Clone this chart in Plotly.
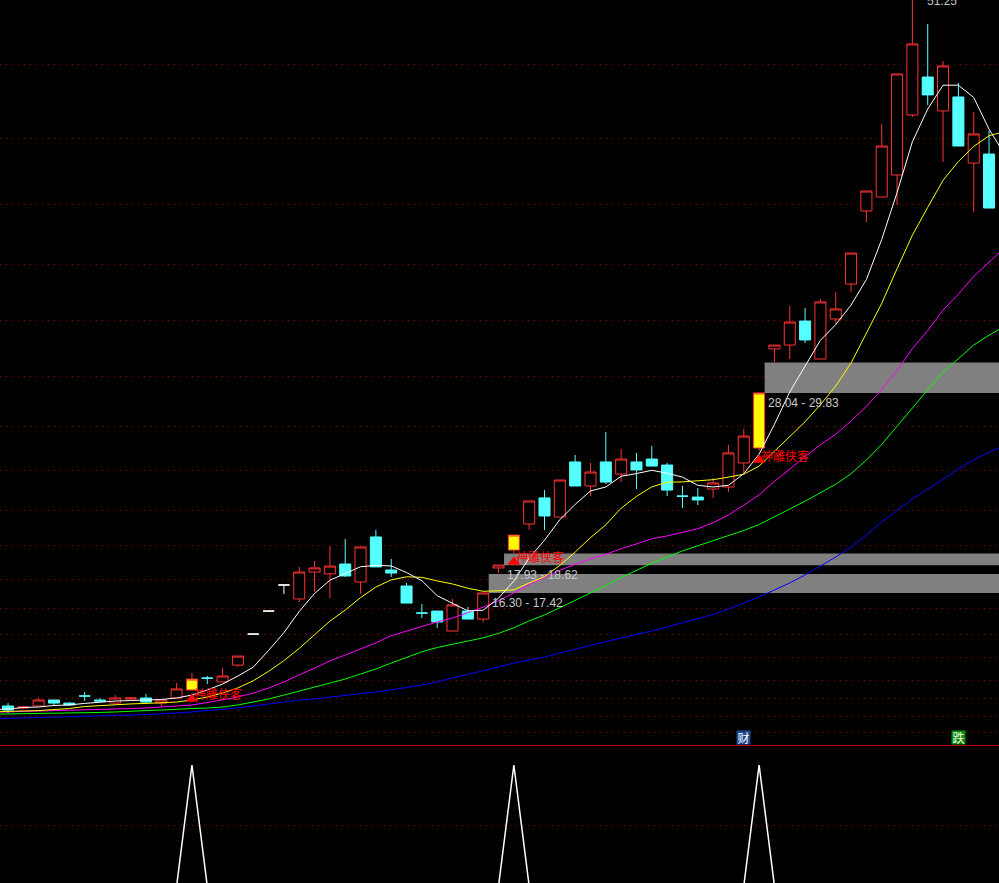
import plotly.graph_objects as go

# ---------------- data ----------------
idx = list(range(65))
opens = [9.67, 9.55, 9.67, 10.02, 9.84, 10.26, 10.02, 9.84, 10.08, 10.14,
         9.84, 10.14, 10.61, 11.31, 11.08, 12.07, 13.89, 15.24, 16.77, 15.95,
         17.53, 17.42, 18.00, 16.95, 19.59, 17.65, 16.71, 15.13, 15.24, 14.07,
         15.24, 14.77, 17.77, 18.82, 20.35, 21.88, 20.76, 23.99, 22.58, 23.99,
         23.28, 23.99, 24.16, 23.81, 21.99, 21.93, 22.40, 22.52, 23.93, 24.81,
         30.62, 30.85, 32.26, 30.03, 32.38, 34.43, 38.72, 39.54, 40.83, 44.35,
         46.58, 44.59, 45.41, 41.53, 42.06]
highs = [9.84, 9.67, 10.14, 10.02, 9.90, 10.49, 10.14, 10.31, 10.20, 10.37,
         10.02, 11.02, 11.61, 11.43, 11.90, 12.60, 13.89, 15.24, 16.77, 17.83,
         18.18, 19.06, 19.47, 19.00, 20.00, 18.30, 16.89, 15.65, 15.24, 15.95,
         15.48, 16.30, 17.94, 19.70, 21.70, 22.34, 22.93, 24.40, 23.93, 25.75,
         24.75, 24.52, 24.93, 23.93, 22.58, 22.46, 23.05, 24.99, 25.92, 28.04,
         30.85, 33.14, 33.02, 33.55, 33.96, 36.25, 39.89, 43.82, 46.76, 51.25,
         49.69, 47.52, 46.23, 44.53, 43.41]
lows = [9.26, 9.49, 9.67, 9.73, 9.67, 9.96, 9.90, 9.84, 10.02, 9.84,
        9.67, 10.14, 10.61, 10.96, 11.08, 11.96, 13.89, 15.24, 16.24, 15.77,
        16.36, 16.01, 17.24, 16.24, 17.83, 17.24, 15.71, 14.83, 14.25, 14.07,
        14.77, 14.60, 17.47, 18.65, 20.00, 20.00, 20.76, 22.58, 21.99, 22.70,
        22.81, 22.40, 23.75, 21.99, 21.29, 21.46, 21.88, 22.23, 23.34, 24.63,
        29.86, 30.03, 30.97, 30.03, 32.09, 33.96, 38.07, 39.54, 39.07, 44.23,
        44.94, 41.59, 42.53, 38.66, 38.89]
closes = [9.43, 9.61, 10.02, 9.84, 9.73, 10.25, 9.96, 10.14, 10.14, 9.90,
          10.02, 10.67, 11.25, 11.30, 11.43, 12.60, 13.89, 15.24, 16.77, 17.53,
          17.77, 17.88, 17.30, 19.00, 17.83, 17.47, 15.71, 15.12, 14.60, 15.60,
          14.77, 16.30, 17.94, 19.70, 21.70, 20.82, 22.93, 22.58, 23.40, 22.81,
          24.16, 23.52, 23.75, 22.34, 21.98, 21.76, 22.76, 24.52, 25.51, 28.04,
          30.85, 32.20, 31.15, 33.38, 32.97, 36.25, 39.89, 42.53, 46.76, 48.52,
          45.53, 47.23, 42.53, 43.24, 38.89]
# u = rising (red hollow), d = falling (cyan), s = signal day (yellow), f = one-price limit day (white)
kinds = ["d", "u", "u", "d", "d", "d", "d", "u", "u", "d",
         "u", "u", "s", "d", "u", "u", "f", "f", "f", "u",
         "u", "u", "d", "u", "d", "d", "d", "d", "d", "u",
         "d", "u", "u", "s", "u", "d", "u", "d", "u", "d",
         "u", "d", "d", "d", "d", "d", "u", "u", "u", "s",
         "u", "u", "d", "u", "u", "u", "u", "u", "u", "u",
         "d", "u", "d", "u", "d"]

ma_x = list(range(-1, 66))
ma5 = [9.45,
       9.49, 9.58, 9.61, 9.70, 9.73, 9.82, 9.90, 9.96, 9.99, 10.02,
       10.05, 10.14, 10.31, 10.61, 10.96, 11.43, 11.95, 12.93, 13.97, 15.22,
       16.27, 17.05, 17.46, 17.84, 17.92, 17.89, 17.50, 17.02, 16.14, 15.71,
       15.25, 15.29, 16.00, 17.00, 18.35, 19.40, 20.60, 21.50, 22.29, 22.52,
       23.15, 23.31, 23.50, 23.33, 23.10, 22.62, 22.52, 22.62, 23.30, 24.45,
       26.20, 28.10, 29.58, 31.13, 32.05, 33.20, 34.70, 37.05, 39.80, 42.78,
       44.70, 46.10, 46.10, 45.38, 43.52,
       42.07]
ma10 = [9.33,
        9.35, 9.38, 9.40, 9.46, 9.52, 9.64, 9.70, 9.76, 9.79, 9.82,
        9.87, 9.90, 10.02, 10.20, 10.43, 10.73, 11.15, 11.70, 12.33, 13.05,
        13.85, 14.65, 15.30, 16.03, 16.65, 17.07, 17.25, 17.22, 17.01, 16.83,
        16.58, 16.40, 16.43, 16.49, 16.89, 17.26, 17.92, 18.70, 19.55, 20.30,
        21.28, 21.97, 22.53, 22.80, 22.82, 22.90, 22.95, 23.10, 23.27, 23.75,
        24.60, 25.50, 26.35, 27.35, 28.45, 29.80, 31.52, 33.30, 35.33, 37.30,
        38.93, 40.52, 41.62, 42.51, 43.13,
        43.38]
ma20 = [9.30,
        9.32, 9.35, 9.38, 9.38, 9.40, 9.43, 9.46, 9.49, 9.52, 9.55,
        9.61, 9.67, 9.73, 9.87, 10.02, 10.20, 10.43, 10.72, 11.08, 11.49,
        11.90, 12.31, 12.66, 13.01, 13.37, 13.80, 14.07, 14.36, 14.60, 14.83,
        15.13, 15.47, 15.85, 16.30, 16.80, 17.20, 17.63, 17.98, 18.30, 18.57,
        18.90, 19.18, 19.48, 19.65, 19.88, 20.07, 20.42, 20.88, 21.45, 22.06,
        22.85, 23.60, 24.30, 25.00, 25.62, 26.40, 27.25, 28.25, 29.36, 30.64,
        31.71, 32.90, 33.84, 34.88, 35.73,
        36.55]
ma30 = [9.19,
        9.20, 9.21, 9.23, 9.23, 9.26, 9.29, 9.29, 9.32, 9.38, 9.40,
        9.43, 9.49, 9.52, 9.55, 9.61, 9.73, 9.90, 10.08, 10.31, 10.55,
        10.78, 11.02, 11.25, 11.55, 11.84, 12.19, 12.54, 12.85, 13.10, 13.28,
        13.45, 13.67, 13.93, 14.26, 14.66, 15.01, 15.44, 15.86, 16.30, 16.73,
        17.20, 17.63, 18.05, 18.42, 18.77, 19.07, 19.37, 19.68, 19.97, 20.32,
        20.76, 21.23, 21.69, 22.17, 22.68, 23.30, 24.11, 25.02, 26.10, 27.19,
        28.22, 29.25, 30.07, 30.85, 31.43,
        31.95]
ma_long = [8.92,
           8.94, 8.97, 9.00, 9.03, 9.05, 9.07, 9.08, 9.11, 9.14, 9.17,
           9.20, 9.26, 9.32, 9.39, 9.46, 9.56, 9.67, 9.79, 9.90, 10.02,
           10.08, 10.20, 10.31, 10.40, 10.49, 10.61, 10.75, 10.90, 11.08, 11.31,
           11.52, 11.72, 11.96, 12.19, 12.37, 12.54, 12.78, 13.01, 13.25, 13.45,
           13.66, 13.86, 14.07, 14.31, 14.54, 14.77, 15.04, 15.36, 15.71, 16.07,
           16.48, 16.89, 17.36, 17.88, 18.41, 19.00, 19.70, 20.47, 21.17, 21.82,
           22.40, 22.99, 23.58, 24.11, 24.57,
           24.95]

grid_levels = [8.14, 9.05, 10.08, 11.19, 12.49, 13.89, 15.42, 17.12, 19.06,
               21.17, 23.46, 26.10, 29.03, 32.32, 35.55, 39.07, 43.00, 47.29]

signal_idx = [12, 33, 49]
signal_text = "神雕侠客"

zone_start = [31, 32, 49]
zone_low = [16.30, 17.93, 28.04]
zone_high = [17.42, 18.62, 29.83]

peak_idx = 59
peak_label = "51.25"

badge_idx = [48, 62]
badge_text = ["财", "跌"]
badge_bg = ["#1b4a8c", "#008a00"]

for arr in (opens, highs, lows, closes, kinds):
    assert len(arr) == 65
for arr in (ma5, ma10, ma20, ma30, ma_long):
    assert len(arr) == 67

# ---------------- figure ----------------
W, H = 999, 883
MAIN_BOTTOM_PX = 745
LOW_TOP_PX = 746

RED = "#ff3232"
CYAN = "#54ffff"
GRID = "#900000"
GRID_DASH = "1px,5px"

fig = go.Figure()


def candle_trace(kind, line_color, fill_color):
    sel = [i for i in idx if kinds[i] == kind]
    style = dict(line=dict(color=line_color, width=1), fillcolor=fill_color)
    return go.Candlestick(
        x=[idx[i] for i in sel],
        open=[opens[i] for i in sel],
        high=[highs[i] for i in sel],
        low=[lows[i] for i in sel],
        close=[closes[i] for i in sel],
        increasing=style, decreasing=style,
        whiskerwidth=0, xaxis="x", yaxis="y", showlegend=False,
    )


fig.add_trace(candle_trace("u", RED, "#000000"))
fig.add_trace(candle_trace("d", CYAN, CYAN))
fig.add_trace(candle_trace("s", RED, "#ffff00"))
fig.add_trace(candle_trace("f", "#ffffff", "#ffffff"))

for ys, col in ((ma_long, "#0000ff"), (ma30, "#00ff00"), (ma20, "#ff00ff"),
                (ma10, "#ffff00"), (ma5, "#ffffff")):
    fig.add_trace(go.Scatter(x=ma_x, y=ys, mode="lines",
                             line=dict(color=col, width=1),
                             xaxis="x", yaxis="y", showlegend=False,
                             hoverinfo="skip"))

# signal triangles under the signal candles
tri_offset = 0.53
fig.add_trace(go.Scatter(
    x=signal_idx, y=[lows[i] - tri_offset for i in signal_idx], mode="markers",
    marker=dict(symbol="triangle-up", size=11, color="#ff0000",
                line=dict(width=0)),
    xaxis="x", yaxis="y", showlegend=False, hoverinfo="skip"))

# lower indicator panel
sig_vals = [1 if x in signal_idx else 0 for x in ma_x]
fig.add_trace(go.Scatter(x=ma_x, y=sig_vals, mode="lines",
                         line=dict(color="#ffffff", width=1.5),
                         xaxis="x2", yaxis="y2", showlegend=False,
                         hoverinfo="skip"))

shapes = []
annotations = []
half_body = 0.36
for s, lo, hi in zip(zone_start, zone_low, zone_high):
    shapes.append(dict(type="rect", xref="x", yref="y",
                       x0=s + half_body, x1=80, y0=lo, y1=hi,
                       fillcolor="#808080", line=dict(width=0),
                       layer="between"))
    annotations.append(dict(x=s + half_body, y=lo, xref="x", yref="y",
                            text=f"{lo:.2f} - {hi:.2f}", showarrow=False,
                            xanchor="left", yanchor="top", xshift=1, yshift=-1,
                            font=dict(family="Liberation Sans", size=12,
                                      color="#c8c8c8")))

for i in signal_idx:
    annotations.append(dict(x=i, y=lows[i], xref="x", yref="y",
                            text=signal_text, showarrow=False,
                            xanchor="left", yanchor="middle",
                            xshift=0, yshift=-4,
                            font=dict(family="Noto Sans CJK SC", size=12,
                                      color="#ff0000")))

annotations.append(dict(x=peak_idx, y=1 - 1.2 / H, xref="x", yref="paper",
                        text=peak_label, showarrow=False,
                        xanchor="left", yanchor="middle", xshift=13,
                        font=dict(family="Liberation Sans", size=12,
                                  color="#c8c8c8")))

for i, t, bg in zip(badge_idx, badge_text, badge_bg):
    annotations.append(dict(x=i, y=1 - 737 / H, xref="x", yref="paper",
                            text=t, showarrow=False, bgcolor=bg,
                            width=13, height=13, borderpad=0,
                            xanchor="center", yanchor="middle",
                            font=dict(family="Noto Sans CJK SC", size=12,
                                      color="#ffffff")))

# separator between panels
shapes.append(dict(type="line", xref="paper", yref="paper", x0=0, x1=1,
                   y0=1 - (MAIN_BOTTOM_PX + 0.5) / H,
                   y1=1 - (MAIN_BOTTOM_PX + 0.5) / H,
                   line=dict(color="#c80000", width=1)))

x_range = [-0.522, 64.65]
fig.update_layout(
    width=W, height=H,
    margin=dict(l=0, r=0, t=0, b=0),
    paper_bgcolor="#000000", plot_bgcolor="#000000",
    showlegend=False,
    boxgap=0.28, boxgroupgap=0,
    xaxis=dict(domain=[0, 1], range=x_range, anchor="y",
               showgrid=False, zeroline=False, showticklabels=False,
               ticks="", rangeslider=dict(visible=False), fixedrange=True),
    yaxis=dict(domain=[1 - MAIN_BOTTOM_PX / H, 1], range=[7.38, 51.10],
               anchor="x", tickmode="array", tickvals=grid_levels,
               showgrid=True, gridcolor=GRID, gridwidth=1, griddash=GRID_DASH,
               zeroline=False, showticklabels=False, ticks=""),
    xaxis2=dict(domain=[0, 1], range=x_range, anchor="y2",
                showgrid=False, zeroline=False, showticklabels=False,
                ticks="", rangeslider=dict(visible=False)),
    yaxis2=dict(domain=[0, 1 - LOW_TOP_PX / H], range=[0.025, 1.157],
                anchor="x2", tickmode="array", tickvals=[0.5],
                showgrid=True, gridcolor=GRID, gridwidth=1, griddash=GRID_DASH,
                zeroline=False, showticklabels=False, ticks=""),
    shapes=shapes,
    annotations=annotations,
)

fig.write_html(
    "out.html",
    config={"displayModeBar": False},
    post_script=("document.body.style.margin='0';"
                 "document.body.style.background='#000000';"
                 "document.body.style.overflow='hidden';"),
)
